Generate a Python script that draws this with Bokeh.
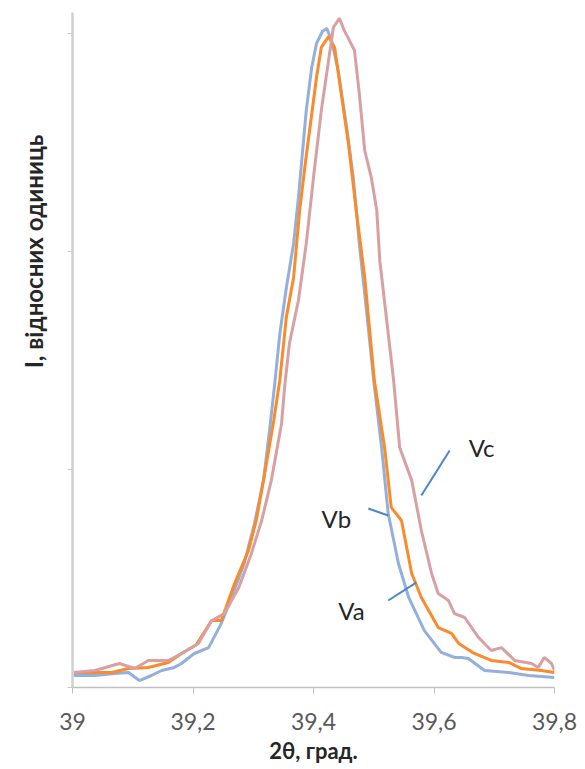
import math
from bokeh.plotting import figure
from bokeh.models import Range1d, FixedTicker, Label, Title
from bokeh.embed import file_html
from bokeh.resources import INLINE

# ---- data ----
vb_x = [39.002, 39.037, 39.070, 39.093, 39.111, 39.131, 39.148, 39.169, 39.181, 39.202,
        39.226, 39.247, 39.264, 39.285, 39.302, 39.317, 39.327, 39.335, 39.344, 39.355,
        39.367, 39.375, 39.382, 39.388, 39.397, 39.405, 39.415, 39.422, 39.430, 39.441,
        39.455, 39.466, 39.476, 39.488, 39.500, 39.513, 39.524, 39.541, 39.558, 39.584,
        39.612, 39.634, 39.646, 39.657, 39.684, 39.724, 39.757, 39.800]
vb_y = [0.055, 0.055, 0.064, 0.069, 0.032, 0.055, 0.078, 0.092, 0.110, 0.156,
        0.183, 0.294, 0.413, 0.569, 0.752, 0.950, 1.179, 1.376, 1.620, 1.835,
        2.037, 2.248, 2.463, 2.647, 2.844, 2.954, 3.010, 3.023, 2.968, 2.830,
        2.569, 2.339, 2.037, 1.729, 1.408, 1.101, 0.798, 0.569, 0.413, 0.261,
        0.161, 0.138, 0.138, 0.133, 0.078, 0.069, 0.055, 0.046]

va_x = [39.002, 39.037, 39.065, 39.093, 39.126, 39.159, 39.181, 39.205, 39.231, 39.247,
        39.269, 39.292, 39.305, 39.319, 39.334, 39.344, 39.355, 39.367, 39.377, 39.387,
        39.405, 39.413, 39.425, 39.435, 39.446, 39.458, 39.471, 39.485, 39.501, 39.518,
        39.529, 39.546, 39.563, 39.579, 39.607, 39.629, 39.641, 39.667, 39.695, 39.724,
        39.745, 39.778, 39.800]
va_y = [0.069, 0.069, 0.069, 0.087, 0.092, 0.115, 0.156, 0.195, 0.307, 0.307,
        0.477, 0.628, 0.766, 0.982, 1.225, 1.408, 1.700, 1.881, 2.188, 2.417,
        2.798, 2.936, 2.986, 2.936, 2.725, 2.495, 2.188, 1.881, 1.408, 1.101,
        0.826, 0.766, 0.523, 0.413, 0.275, 0.248, 0.202, 0.156, 0.124, 0.115,
        0.087, 0.078, 0.069]

vc_x = [39.002, 39.037, 39.078, 39.103, 39.126, 39.159, 39.181, 39.209, 39.231, 39.252,
        39.276, 39.297, 39.314, 39.330, 39.347, 39.352, 39.360, 39.375, 39.388, 39.400,
        39.413, 39.425, 39.433, 39.443, 39.451, 39.468, 39.476, 39.485, 39.496, 39.505,
        39.510, 39.533, 39.543, 39.563, 39.579, 39.596, 39.607, 39.624, 39.634, 39.651,
        39.674, 39.695, 39.712, 39.734, 39.762, 39.773, 39.783, 39.795, 39.800]
vc_y = [0.069, 0.078, 0.110, 0.087, 0.124, 0.124, 0.156, 0.202, 0.307, 0.339,
        0.459, 0.615, 0.766, 0.950, 1.211, 1.376, 1.578, 1.775, 2.037, 2.339,
        2.647, 2.876, 3.028, 3.069, 3.014, 2.922, 2.725, 2.463, 2.339, 2.188,
        1.959, 1.408, 1.101, 0.950, 0.720, 0.523, 0.431, 0.399, 0.339, 0.321,
        0.229, 0.170, 0.183, 0.124, 0.110, 0.092, 0.138, 0.110, 0.078]

x_ticks = [39.0, 39.2, 39.4, 39.6, 39.8]
x_tick_labels = ["39", "39,2", "39,4", "39,6", "39,8"]
y_ticks = [0, 1, 2, 3]

series_names = ["Va", "Vb", "Vc"]
# label text positions and leader lines (data coords)
label_pos = {"Va": (39.463, 0.353), "Vb": (39.438, 0.775), "Vc": (39.679, 1.101)}
leader_x = {"Va": [39.524, 39.571], "Vb": [39.491, 39.524], "Vc": [39.626, 39.579]}
leader_y = {"Va": [0.399, 0.482], "Vb": [0.821, 0.789], "Vc": [1.087, 0.881]}

x_title = "2θ, град."
y_title = "I, відносних одиниць"

# ---- figure ----
FONT = "Lato"
p = figure(output_backend="svg", toolbar_location=None,
           frame_width=482, frame_height=675,
           min_border_left=71, min_border_right=32, min_border_top=12, min_border_bottom=78,
           x_range=Range1d(39.0, 39.8), y_range=Range1d(0, 3.096))
p.outline_line_color = None
p.grid.visible = False
p.background_fill_color = "white"
p.border_fill_color = "white"

# x axis
xa = p.xaxis[0]
xa.ticker = FixedTicker(ticks=x_ticks, minor_ticks=[])
xa.major_label_overrides = {t: l for t, l in zip(x_ticks, x_tick_labels)}
xa.axis_line_color = "#bfbfbf"
xa.axis_line_width = 1.5
xa.major_tick_line_color = "#bfbfbf"
xa.major_tick_in = 0
xa.major_tick_out = 6
xa.minor_tick_line_color = None
xa.major_label_text_font = FONT
xa.major_label_text_font_size = "23px"
xa.major_label_text_color = "#595959"
xa.major_label_standoff = 19
xa.axis_label = x_title
xa.axis_label_text_font = FONT
xa.axis_label_text_font_style = "bold"
xa.axis_label_text_font_size = "22px"
xa.axis_label_text_color = "#262626"
xa.axis_label_standoff = 4

# y axis
ya = p.yaxis[0]
ya.ticker = FixedTicker(ticks=y_ticks, minor_ticks=[])
ya.major_label_overrides = {t: "" for t in y_ticks}
ya.major_label_text_font_size = "1px"
ya.axis_line_color = "#d0d0d0"
ya.axis_line_width = 2.5
ya.major_tick_line_color = "#c8c8c8"
ya.major_tick_in = 0
ya.major_tick_out = 5
ya.minor_tick_line_color = None

# curves
p.line(vb_x, vb_y, line_color="#93afdb", line_width=3)
p.line(va_x, va_y, line_color="#fa8a2a", line_width=3)
p.line(vc_x, vc_y, line_color="#d8a0a2", line_width=3)

# labels + leaders
for name in series_names:
    p.line(leader_x[name], leader_y[name], line_color="#4a86c8", line_width=2)
    lx, ly = label_pos[name]
    p.add_layout(Label(x=lx, y=ly, text=name, text_font=FONT, text_font_size="24px",
                       text_color="#262626", text_align="center", text_baseline="middle"))

# y title as a left-side title, shifted up and out like the original
p.add_layout(Title(text=y_title, align="right", offset=122, standoff=36,
                   vertical_align="top",
                   text_font=FONT, text_font_style="bold", text_font_size="24px",
                   text_color="#262626"), "left")

open("out.html", "w").write(file_html(p, INLINE))
